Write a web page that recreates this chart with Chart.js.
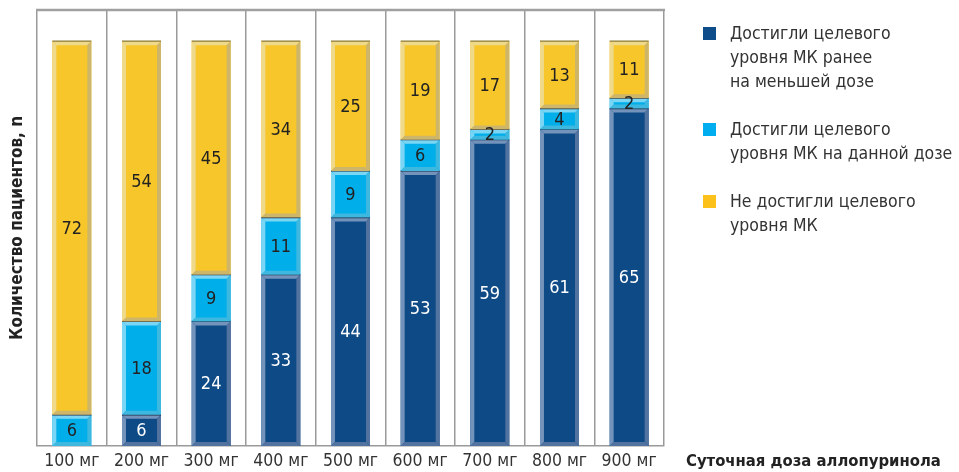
<!DOCTYPE html>
<html>
<head>
<meta charset="utf-8">
<script src="https://cdn.jsdelivr.net/npm/chart.js@4.4.1/dist/chart.umd.min.js"></script>
<style>
  body { margin: 0; background: #fff; }
  #wrap { position: relative; width: 959px; height: 472px; font-family: 'DejaVu Sans Condensed', 'Liberation Sans Narrow', sans-serif; }
  #legend { position: absolute; left: 703px; top: 21px; color: #333; font-size: 17.5px; line-height: 24px; white-space: nowrap; }
  .item { position: relative; padding-left: 27px; margin-bottom: 24px; }
  .box { position: absolute; left: 0; top: 6px; width: 13px; height: 13px; }
</style>
</head>
<body>
<div id="wrap">
  <canvas id="chart" width="959" height="472"></canvas>
  <div id="legend"></div>
</div>
<script>
// doses along the x axis
const doses = ['100 мг', '200 мг', '300 мг', '400 мг', '500 мг', '600 мг', '700 мг', '800 мг', '900 мг'];

// the three parts of each bar, bottom to top
const earlierDose = [0, 6, 24, 33, 44, 53, 59, 61, 65];
const thisDose = [6, 18, 9, 11, 9, 6, 2, 4, 2];
const notReached = [72, 54, 45, 34, 25, 19, 17, 13, 11];

// legend texts, one line per array element
const legendTexts = [
  ['Достигли целевого', 'уровня МК ранее', 'на меньшей дозе'],
  ['Достигли целевого', 'уровня МК на данной дозе'],
  ['Не достигли целевого', 'уровня МК']
];

const yTitle = 'Количество пациентов, n';
const xTitle = 'Суточная доза аллопуринола';

const fontFam = "'DejaVu Sans Condensed', 'Liberation Sans Narrow', sans-serif";

const datasets = [
  { label: legendTexts[0].join(' '), data: earlierDose, backgroundColor: '#0e4a86', legendColor: '#0e4c8a',
    light: '#7393bb', dark: '#52739f', textColor: '#ffffff' },
  { label: legendTexts[1].join(' '), data: thisDose, backgroundColor: '#00aeea', legendColor: '#00aeef',
    light: '#7ad6f4', dark: '#3fb8e0', textColor: '#222222' },
  { label: legendTexts[2].join(' '), data: notReached, backgroundColor: '#f7c62a', legendColor: '#fcc21b',
    light: '#efd98a', dark: '#cdb56a', textColor: '#222222' }
];

// html legend on the right side (multi line labels are easier this way)
const legendDiv = document.getElementById('legend');
datasets.forEach((ds, i) => {
  const item = document.createElement('div');
  item.className = 'item';
  item.innerHTML = '<span class="box" style="background:' + ds.legendColor + '"></span>' + legendTexts[i].join('<br>');
  legendDiv.appendChild(item);
});

function poly(ctx, pts, color) {
  ctx.fillStyle = color;
  ctx.beginPath();
  ctx.moveTo(pts[0], pts[1]);
  for (let k = 2; k < pts.length; k += 2) ctx.lineTo(pts[k], pts[k + 1]);
  ctx.closePath();
  ctx.fill();
}

// draws the bevel edges, the thin dark line between segments and the numbers
const bevelPlugin = {
  id: 'bevel',
  afterDatasetsDraw(chart) {
    const ctx = chart.ctx;
    ctx.save();
    chart.data.datasets.forEach((ds, di) => {
      const meta = chart.getDatasetMeta(di);
      meta.data.forEach((bar, i) => {
        if (!ds.data[i]) return;
        const p = bar.getProps(['x', 'y', 'base', 'width'], true);
        const l = p.x - p.width / 2, r = p.x + p.width / 2, t = p.y, b = p.base;
        const bw = Math.min(4, (b - t) / 2);
        poly(ctx, [l, t, r, t, r - bw, t + bw, l + bw, t + bw], ds.light);
        poly(ctx, [l, t, l + bw, t + bw, l + bw, b - bw, l, b], ds.light);
        poly(ctx, [r, t, r, b, r - bw, b - bw, r - bw, t + bw], ds.dark);
        poly(ctx, [l, b, r, b, r - bw, b - bw, l + bw, b - bw], ds.dark);
        // is something stacked on top of this segment?
        let covered = false;
        for (let k = di + 1; k < chart.data.datasets.length; k++) {
          if (chart.data.datasets[k].data[i]) covered = true;
        }
        ctx.strokeStyle = covered ? '#1b2a44' : (di === 2 ? '#8b7a36' : '#1b2a44');
        ctx.lineWidth = 1.2;
        ctx.beginPath();
        ctx.moveTo(l, t);
        ctx.lineTo(r, t);
        ctx.stroke();
      });
    });
    // numbers in the middle of every segment
    ctx.font = '18px ' + fontFam;
    ctx.textAlign = 'center';
    ctx.textBaseline = 'middle';
    chart.data.datasets.forEach((ds, di) => {
      const meta = chart.getDatasetMeta(di);
      meta.data.forEach((bar, i) => {
        if (!ds.data[i]) return;
        const p = bar.getProps(['x', 'y', 'base'], true);
        ctx.fillStyle = ds.textColor;
        ctx.fillText(String(ds.data[i]), p.x, (p.y + p.base) / 2 + 1);
      });
    });
    ctx.restore();
  },
  afterDraw(chart) {
    const ctx = chart.ctx;
    const area = chart.chartArea;
    ctx.save();
    // top frame line
    ctx.strokeStyle = '#a0a0a0';
    ctx.lineWidth = 2.5;
    ctx.beginPath();
    ctx.moveTo(area.left - 1, area.top);
    ctx.lineTo(area.right + 1, area.top);
    ctx.stroke();
    // axis titles
    ctx.fillStyle = '#222';
    ctx.font = 'bold 16.5px ' + fontFam;
    ctx.textBaseline = 'middle';
    ctx.textAlign = 'left';
    ctx.fillText(xTitle, 686, 462);
    ctx.font = 'bold 17px ' + fontFam;
    ctx.translate(18, (area.top + area.bottom) / 2);
    ctx.rotate(-Math.PI / 2);
    ctx.textAlign = 'center';
    ctx.fillText(yTitle, 0, 0);
    ctx.restore();
  }
};

const ctx = document.getElementById('chart');
new Chart(ctx, {
  type: 'bar',
  data: {
    labels: doses,
    datasets: datasets.map(d => ({
      label: d.label,
      data: d.data,
      backgroundColor: d.backgroundColor,
      borderWidth: 0,
      light: d.light,
      dark: d.dark,
      textColor: d.textColor,
      categoryPercentage: 1,
      barPercentage: 0.56
    }))
  },
  options: {
    responsive: false,
    animation: false,
    layout: { padding: { left: 37, right: 295, top: 10, bottom: 0 } },
    plugins: {
      legend: { display: false },
      tooltip: { enabled: false }
    },
    scales: {
      x: {
        stacked: true,
        grid: { offset: true, color: '#9a9a9a', lineWidth: 1.5, drawTicks: false },
        border: { display: true, color: '#9a9a9a', width: 1.5 },
        ticks: { color: '#333', padding: 5, font: { family: fontFam, size: 17.5 } },
        // force the axis to be 26px so the plot ends at y=446
        afterFit(scale) { scale.height = 26; }
      },
      y: {
        stacked: true,
        display: false,
        min: 0,
        max: 84
      }
    }
  },
  plugins: [bevelPlugin]
});
</script>
</body>
</html>
